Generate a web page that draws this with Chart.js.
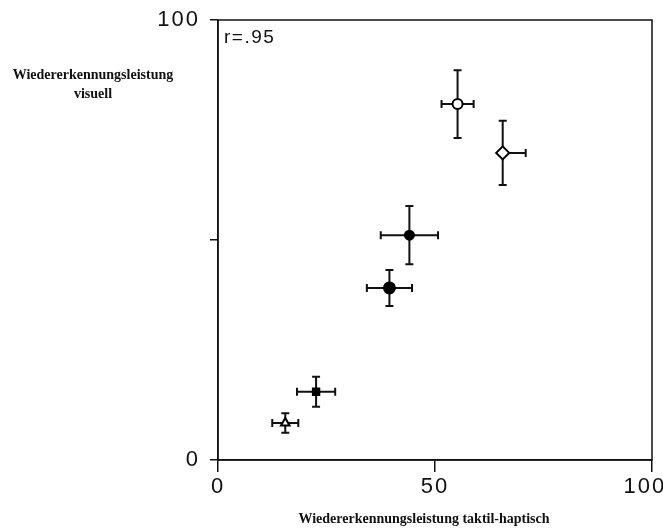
<!DOCTYPE html>
<html>
<head>
<meta charset="utf-8">
<script src="https://cdn.jsdelivr.net/npm/chart.js@4/dist/chart.umd.min.js"></script>
<style>
  html, body { margin: 0; padding: 0; background: #fff; overflow: hidden; }
  #wrap { position: relative; width: 663px; height: 530px; }
  canvas { position: absolute; left: 0; top: 0; }
  .t { position: absolute; font-family: "Liberation Serif", serif; font-weight: bold; font-size: 14px; color: #111; white-space: nowrap; }
  #ytitle { left: 0; top: 65px; width: 186px; text-align: center; line-height: 19px; }
  #xtitle { left: 224px; width: 400px; top: 511px; text-align: center; }
  #rlab { position: absolute; left: 224px; top: 26px; font-family: "Liberation Sans", sans-serif; font-size: 19px; letter-spacing: 1.5px; color: #111; }
</style>
</head>
<body>
<div id="wrap">
  <canvas id="c" width="663" height="530"></canvas>
  <div class="t" id="ytitle">Wiedererkennungsleistung<br>visuell</div>
  <div class="t" id="xtitle">Wiedererkennungsleistung taktil-haptisch</div>
  <div id="rlab">r=.95</div>
</div>
<script>
// Data
const xTaktil   = [15.5, 22.6, 39.5, 44.1, 55.2, 65.6];
const yVisuell  = [8.4, 15.5, 39.1, 51.1, 80.9, 69.8];
const xErrLow   = [3.0, 4.4, 5.2, 6.6, 3.7, 0.0];
const xErrHigh  = [3.0, 4.4, 5.2, 6.6, 3.7, 5.3];
const yErrLow   = [2.2, 3.4, 4.1, 6.6, 7.7, 7.3];
const yErrHigh  = [2.2, 3.4, 4.1, 6.6, 7.7, 7.3];
const xTickLabels = {0: '0', 50: '50', 100: '100\u2007'};
const yTickLabels = {0: '0', 100: '100'};

const pointStyles = ['triangle', 'rect', 'circle', 'circle', 'circle', 'rectRot'];
const pointRadii  = [5, 4.5, 5.5, 4.5, 5, 6.5];
const pointFills  = ['#fff', '#000', '#000', '#000', '#fff', '#fff'];

const points = xTaktil.map((x, i) => ({x: x, y: yVisuell[i]}));

const ink = '#111';

const errorBars = {
  id: 'errorBars',
  beforeDatasetsDraw(chart) {
    const ctx = chart.ctx, xs = chart.scales.x, ys = chart.scales.y;
    const cap = 4;
    ctx.save();
    ctx.strokeStyle = ink;
    ctx.lineWidth = 2;
    xTaktil.forEach((xv, i) => {
      const yv = yVisuell[i];
      const px = xs.getPixelForValue(xv), py = ys.getPixelForValue(yv);
      const xl = xs.getPixelForValue(xv - xErrLow[i]);
      const xr = xs.getPixelForValue(xv + xErrHigh[i]);
      const yb = ys.getPixelForValue(yv - yErrLow[i]);
      const yt = ys.getPixelForValue(yv + yErrHigh[i]);
      ctx.beginPath();
      ctx.moveTo(xl, py); ctx.lineTo(xr, py);
      ctx.moveTo(px, yb); ctx.lineTo(px, yt);
      if (xErrLow[i] > 0) { ctx.moveTo(xl, py - cap); ctx.lineTo(xl, py + cap); }
      if (xErrHigh[i] > 0) { ctx.moveTo(xr, py - cap); ctx.lineTo(xr, py + cap); }
      if (yErrLow[i] > 0) { ctx.moveTo(px - cap, yb); ctx.lineTo(px + cap, yb); }
      if (yErrHigh[i] > 0) { ctx.moveTo(px - cap, yt); ctx.lineTo(px + cap, yt); }
      ctx.stroke();
    });
    ctx.restore();
  }
};

const frame = {
  id: 'frame',
  beforeDraw(chart) { chart.ctx.letterSpacing = '2px'; },
  afterDatasetsDraw(chart) {
    const {left, right, top, bottom} = chart.chartArea;
    const ctx = chart.ctx;
    ctx.save();
    ctx.strokeStyle = ink;
    ctx.lineWidth = 1.5;
    ctx.strokeRect(left, top, right - left, bottom - top);
    ctx.restore();
  }
};

function noPad(s) { s.paddingLeft = 0; s.paddingRight = 0; s.paddingTop = 0; s.paddingBottom = 0; }

new Chart(document.getElementById('c'), {
  type: 'scatter',
  data: {
    datasets: [{
      data: points,
      pointStyle: pointStyles,
      pointRadius: pointRadii,
      pointHoverRadius: pointRadii,
      pointBackgroundColor: pointFills,
      pointBorderColor: '#000',
      pointBorderWidth: 2
    }]
  },
  options: {
    responsive: false,
    animation: false,
    events: [],
    layout: { autoPadding: false, padding: { top: 20, right: 11, left: 0, bottom: 0 } },
    plugins: { legend: { display: false }, tooltip: { enabled: false } },
    scales: {
      x: {
        type: 'linear', min: 0, max: 100,
        afterFit(s) { s.height = 70; noPad(s); },
        grid: { drawOnChartArea: false, drawTicks: true, tickLength: 12, color: ink, lineWidth: 1.5 },
        border: { display: true, color: ink, width: 1.5 },
        ticks: {
          stepSize: 50, padding: 2, color: ink,
          font: { family: 'Liberation Sans', size: 22 },
          maxRotation: 0,
          callback: v => (v in xTickLabels ? xTickLabels[v] : '')
        }
      },
      y: {
        type: 'linear', min: 0, max: 100,
        afterFit(s) { s.width = 218; noPad(s); },
        grid: { drawOnChartArea: false, drawTicks: true, tickLength: 8, color: ink, lineWidth: 1.5 },
        border: { display: true, color: ink, width: 1.5 },
        ticks: {
          stepSize: 50, padding: 10, color: ink,
          font: { family: 'Liberation Sans', size: 22 },
          callback: v => (v in yTickLabels ? yTickLabels[v] : '')
        }
      }
    }
  },
  plugins: [errorBars, frame]
});
</script>
</body>
</html>
